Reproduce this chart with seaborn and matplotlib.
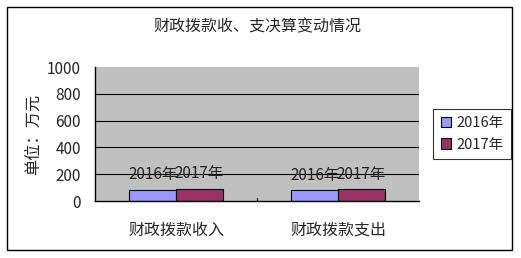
import matplotlib
matplotlib.use("Agg")
import matplotlib.pyplot as plt
import seaborn as sns
import pandas as pd
from matplotlib.patches import Rectangle

categories = ["财政拨款收入", "财政拨款支出"]
series = ["2016年", "2017年"]
values_2016 = [82, 80]
values_2017 = [90, 87]
yticks = [0, 200, 400, 600, 800, 1000]
colors = ["#9999FF", "#993366"]

sns.set_theme(style="white")
plt.rcParams['font.family'] = ['Noto Sans CJK SC', 'DejaVu Sans']

df = pd.DataFrame({
    "cat": categories * 2,
    "year": [series[0]] * 2 + [series[1]] * 2,
    "val": values_2016 + values_2017,
})

W, H = 521, 258
fig = plt.figure(figsize=(W / 100, H / 100), dpi=100)
fig.patch.set_facecolor("white")
fig.patches.append(Rectangle((7 / W, 1 - 250 / H), 505 / W, 243 / H, transform=fig.transFigure,
                             fill=False, edgecolor="black", linewidth=1))

ax = fig.add_axes([95 / W, 1 - 201 / H, 324 / W, 134 / H])
ax.set_facecolor("#C0C0C0")
sns.barplot(data=df, x="cat", y="val", hue="year", palette=colors, ax=ax,
            width=0.58, edgecolor="black", linewidth=0.8, saturation=1, legend=True)
ax.set_ylim(0, 1000)
ax.set_xlim(-0.5, 1.5)
ax.set_yticks(yticks)
ax.set_yticklabels([str(t) for t in yticks], fontsize=11)
for t in yticks[1:-1]:
    ax.axhline(t, color="black", linewidth=0.8, zorder=0.5)
ax.set_xlabel("")
ax.set_ylabel("单位：万元", fontsize=11.7, labelpad=4)
ax.tick_params(axis="x", labelsize=11.5, length=0, pad=15)
ax.tick_params(axis="y", length=0, pad=10)
for s in ["top", "right"]:
    ax.spines[s].set_visible(False)
for s in ["left", "bottom"]:
    ax.spines[s].set_color("black")
    ax.spines[s].set_linewidth(1)
ax.plot([0.5, 0.5], [0, 25], color="black", linewidth=0.8, clip_on=False)

for container, name in zip(ax.containers, series):
    for bar in container:
        ax.text(bar.get_x() + bar.get_width() / 2, bar.get_height() + 50, name,
                ha="center", va="bottom", fontsize=11, color="#222222")

ax.set_title("财政拨款收、支决算变动情况", fontsize=11.5, pad=26)

leg = ax.legend(loc="center left", bbox_to_anchor=((426 - 95) / 324, 0.5), fontsize=10.5,
                frameon=True, fancybox=False, edgecolor="black", handlelength=0.7, handleheight=0.7,
                handletextpad=0.4, borderpad=0.5, labelspacing=0.5)
leg.get_frame().set_linewidth(0.8)

fig.savefig("out.png", dpi=100)
